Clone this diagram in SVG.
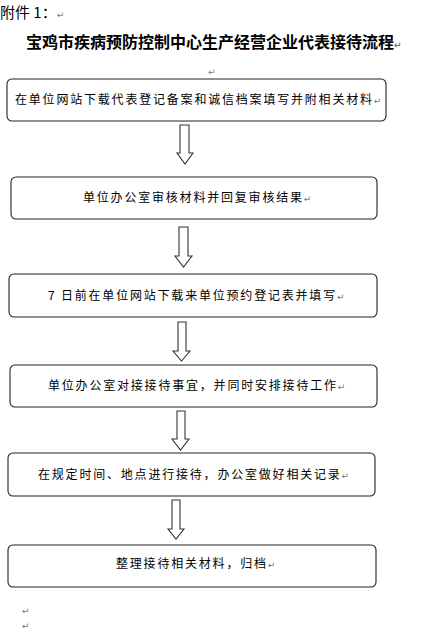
<svg xmlns="http://www.w3.org/2000/svg" width="429" height="630" viewBox="0 0 429 630">
<style>
.box{fill:#fff;stroke:#222;stroke-width:1.1}
.arr{fill:#fff;stroke:#333;stroke-width:1.1;stroke-linejoin:miter}
.t{font-family:"Noto Sans CJK SC","Liberation Sans",sans-serif;font-size:12px;letter-spacing:1.8px;fill:#000}
.pm{font-family:"DejaVu Sans",sans-serif;font-size:9px;fill:#777;letter-spacing:0}
.h{font-family:"Noto Sans CJK SC","Liberation Sans",sans-serif;fill:#000}
</style>
<rect width="429" height="630" fill="#fff"/>
<g id="header">
<text class="h" x="0" y="18" font-size="15">附件 1：<tspan class="pm">↵</tspan></text>
<text class="h" x="26" y="48" font-size="16" font-weight="bold">宝鸡市疾病预防控制中心生产经营企业代表接待流程<tspan class="pm">↵</tspan></text>
<text class="pm" x="208" y="75">↵</text>
</g>
<g id="connectors">
<polygon class="arr" points="180,125 189,125 189,153 193,153 185,164 177,153 180,153"/>
<polygon class="arr" points="179,227 188,227 188,256 192,256 183.5,267 175,256 179,256"/>
<polygon class="arr" points="178,322 186,322 186,351 190,351 181.5,361 173,351 178,351"/>
<polygon class="arr" points="177,411 185,411 185,439 189,439 180.5,450 172,439 177,439"/>
<polygon class="arr" points="172,500 180,500 180,529 184,529 176,539 168,529 172,529"/>
</g>
<g id="n1">
<rect class="box" x="7" y="79" width="379" height="42" rx="5"/>
<text class="t" x="15" y="104">在单位网站下载代表登记备案和诚信档案填写并附相关材料<tspan class="pm">↵</tspan></text>
</g>
<g id="n2">
<rect class="box" x="11" y="177" width="366" height="42" rx="5"/>
<text class="t" x="83" y="202">单位办公室审核材料并回复审核结果<tspan class="pm">↵</tspan></text>
</g>
<g id="n3">
<rect class="box" x="9" y="274" width="368" height="43" rx="5"/>
<text class="t" x="48" y="300">7 日前在单位网站下载来单位预约登记表并填写<tspan class="pm">↵</tspan></text>
</g>
<g id="n4">
<rect class="box" x="10" y="365" width="367" height="42" rx="5"/>
<text class="t" x="48" y="390">单位办公室对接接待事宜，并同时安排接待工作<tspan class="pm">↵</tspan></text>
</g>
<g id="n5">
<rect class="box" x="8" y="453" width="367" height="43" rx="5"/>
<text class="t" x="38" y="479">在规定时间、地点进行接待，办公室做好相关记录<tspan class="pm">↵</tspan></text>
</g>
<g id="n6">
<rect class="box" x="8" y="545" width="368" height="42" rx="5"/>
<text class="t" x="116" y="568">整理接待相关材料，归档<tspan class="pm">↵</tspan></text>
</g>
<g id="marks">
<text class="pm" x="22" y="614" font-size="5">↵</text>
<text class="pm" x="22" y="629" font-size="5">↵</text>
</g>
</svg>
